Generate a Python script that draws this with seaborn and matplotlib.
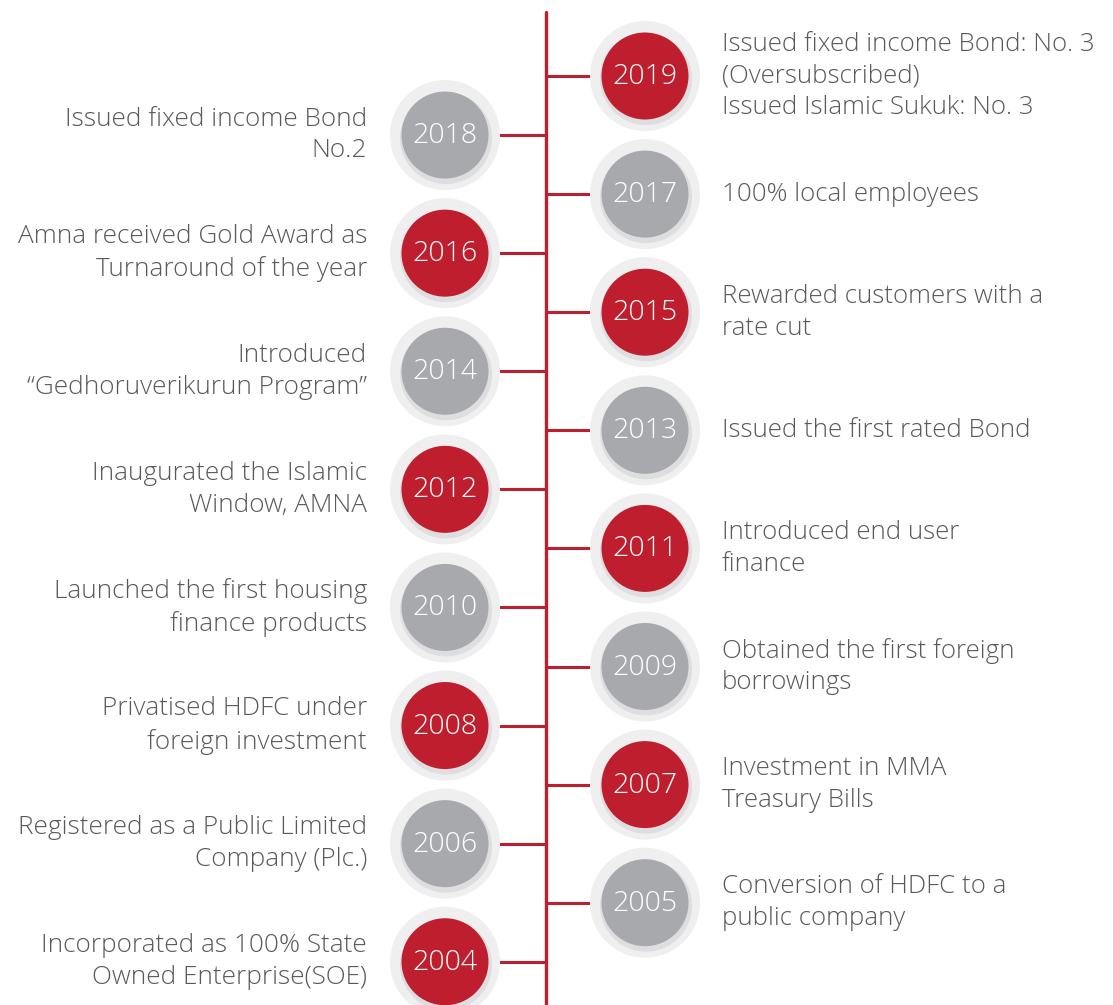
import pandas as pd
import matplotlib.pyplot as plt
import seaborn as sns

# Timeline data
years = [2019, 2018, 2017, 2016, 2015, 2014, 2013, 2012,
         2011, 2010, 2009, 2008, 2007, 2006, 2005, 2004]
highlight = [True, False, False, True, True, False, False, True,
             True, False, False, True, True, False, False, True]
events = [
    "Issued fixed income Bond: No. 3\n(Oversubscribed)\nIssued Islamic Sukuk: No. 3",
    "Issued fixed income Bond\nNo.2",
    "100% local employees",
    "Amna received Gold Award as\nTurnaround of the year",
    "Rewarded customers with a\nrate cut",
    "Introduced\n\u201cGedhoruverikurun Program\u201d",
    "Issued the first rated Bond",
    "Inaugurated the Islamic\nWindow, AMNA",
    "Introduced end user\nfinance",
    "Launched the first housing\nfinance products",
    "Obtained the first foreign\nborrowings",
    "Privatised HDFC under\nforeign investment",
    "Investment in MMA\nTreasury Bills",
    "Registered as a Public Limited\nCompany (Plc.)",
    "Conversion of HDFC to a\npublic company",
    "Incorporated as 100% State\nOwned Enterprise(SOE)",
]

RED = "#be1e2d"
GREY = "#a7a9ac"
TEXT = "#58595b"

sns.set_style("white")
plt.rcParams["font.family"] = ["Open Sans", "DejaVu Sans"]

df = pd.DataFrame({"year": years, "highlight": highlight, "event": events})
# odd years sit on the right of the spine, even years on the left
df["side"] = ["right" if y % 2 else "left" for y in df["year"]]
df["x"] = df["side"].map({"left": 445, "right": 645})
df["y"] = 76 + (2019 - df["year"]) * 59.05
df["color"] = df["highlight"].map({True: RED, False: GREY})

fig = plt.figure(figsize=(11.13, 10.05), dpi=100)
ax = fig.add_axes([0, 0, 1, 1])
ax.set_xlim(0, 1113)
ax.set_ylim(1005, 0)
ax.axis("off")

spine_x = 546
ax.plot([spine_x, spine_x], [12, 1005], color=RED, lw=2.4, zorder=1)
for _, r in df.iterrows():
    x0 = 500 if r["side"] == "left" else spine_x
    x1 = spine_x if r["side"] == "left" else 592
    ax.plot([x0, x1], [r["y"], r["y"]], color=RED, lw=2.2, zorder=1)

# halo, soft shadow and coloured disc
pt = 72 / 100
sns.scatterplot(data=df, x="x", y="y", s=(110 * pt) ** 2, color="#efeff0",
                edgecolor="none", ax=ax, zorder=2, legend=False)
shadow = df.assign(x=df["x"] + 1, y=df["y"] + 3)
sns.scatterplot(data=shadow, x="x", y="y", s=(92 * pt) ** 2, color="#dedee0",
                edgecolor="none", ax=ax, zorder=3, legend=False)
sns.scatterplot(data=df, x="x", y="y", hue="color", palette={RED: RED, GREY: GREY},
                s=(87 * pt) ** 2, edgecolor="none", ax=ax, zorder=4, legend=False)

for _, r in df.iterrows():
    ax.text(r["x"], r["y"] + 1, str(r["year"]), color="white", fontsize=20.5,
            fontweight="light", ha="center", va="center", zorder=5)
    if r["side"] == "left":
        ax.text(367, r["y"], r["event"], ha="right", va="center", color=TEXT,
                fontsize=18.8, fontweight="light", linespacing=1.36, zorder=5)
    else:
        ax.text(722, r["y"], r["event"], ha="left", va="center", color=TEXT,
                fontsize=18.6, fontweight="light", linespacing=1.36, zorder=5)

plt.savefig("out.png", dpi=100)
